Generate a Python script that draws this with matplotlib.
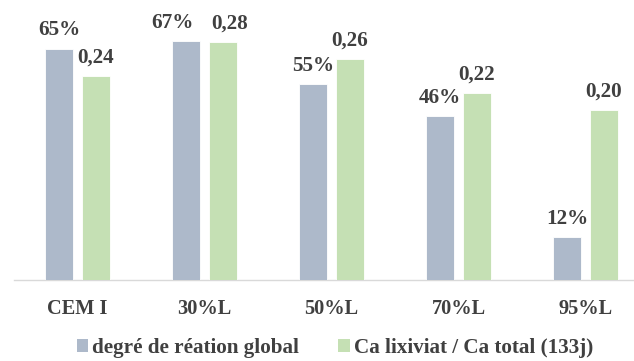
import matplotlib.pyplot as plt
import numpy as np
from matplotlib.patches import Patch

# data
categories = ["CEM I", "30%L", "50%L", "70%L", "95%L"]
degre_reaction = [0.65, 0.67, 0.55, 0.46, 0.12]
ca_ratio = [0.24, 0.28, 0.26, 0.22, 0.20]
series_names = ["degré de réation global", "Ca lixiviat / Ca total (133j)"]

blue = "#ADB9CA"
green = "#C5E0B4"
text_col = "#404040"

plt.rcParams["font.family"] = ["Liberation Serif", "DejaVu Serif"]
plt.rcParams["font.weight"] = "bold"

W, H = 634, 361
fig = plt.figure(figsize=(W / 100, H / 100), dpi=100)

# axes in pixel terms: left 14, right 634, bottom 280, top 20
ax = fig.add_axes([14 / W, (H - 280) / H, 620 / W, 260 / H])
ax2 = ax.twinx()

x = np.arange(len(categories))
w = 0.226
off = 0.1445

ax.bar(x - off, degre_reaction, width=w, color=blue, edgecolor="white", linewidth=0.6, zorder=3)
ax2.bar(x + off, ca_ratio, width=w, color=green, edgecolor="white", linewidth=0.6, zorder=3)

ax.set_xlim(-0.5, -0.5 + 620 / 127)
ax.set_ylim(0, 260 / 356)
ax2.set_ylim(0, 260 / 850)

for a in (ax, ax2):
    for s in a.spines.values():
        s.set_visible(False)
    a.set_yticks([])
ax.spines["bottom"].set_visible(True)
ax.spines["bottom"].set_color("#D9D9D9")
ax.spines["bottom"].set_linewidth(1.0)

ax.set_xticks(x)
ax.set_xticklabels(categories, fontsize=14.7, color=text_col, fontweight="bold")
ax.tick_params(axis="x", length=0, pad=14)

# labels on the 30%L group are pushed apart so they don't collide
nudge_blue = {1: -9.7}
nudge_green = {1: 5.0}

for i, v in enumerate(degre_reaction):
    ax.annotate(f"{round(v * 100)}%", (x[i] - off, v), xytext=(nudge_blue.get(i, 0), 9.5),
                textcoords="offset points", ha="center", va="baseline",
                fontsize=15.2, color=text_col, fontweight="bold")
for i, v in enumerate(ca_ratio):
    ax2.annotate(f"{v:.2f}".replace(".", ","), (x[i] + off, v), xytext=(nudge_green.get(i, 0), 9.5),
                 textcoords="offset points", ha="center", va="baseline",
                 fontsize=15.2, color=text_col, fontweight="bold")

handles = [Patch(facecolor=blue), Patch(facecolor=green)]
fig.legend(handles, series_names, loc="center", bbox_to_anchor=(335 / W, 1 - 348 / H), ncol=2,
           frameon=False, fontsize=15.2, handlelength=0.55, handleheight=0.55, handletextpad=0.2,
           columnspacing=1.85, labelcolor=text_col)

fig.savefig("out.png", dpi=100)
